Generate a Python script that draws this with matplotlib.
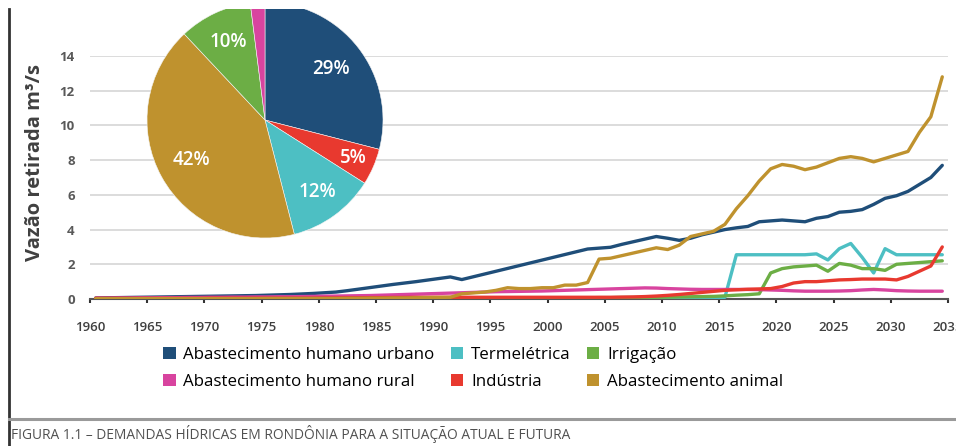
import matplotlib
matplotlib.use("Agg")
import matplotlib.pyplot as plt
from matplotlib.patches import Patch
from matplotlib.lines import Line2D
import numpy as np

# ---------------- data ----------------
YEARS = list(range(1960, 2035))  # category years (75)

urbano = [0.06, 0.07, 0.08, 0.09, 0.10, 0.11, 0.12, 0.13, 0.14, 0.15,
          0.16, 0.17, 0.18, 0.19, 0.20, 0.22, 0.24, 0.26, 0.29, 0.32,
          0.36, 0.40, 0.48, 0.57, 0.66, 0.75, 0.84, 0.92, 1.00, 1.09,
          1.18, 1.27, 1.12, 1.28, 1.44, 1.60, 1.76, 1.92, 2.08, 2.24,
          2.40, 2.56, 2.72, 2.88, 2.93, 2.98, 3.15, 3.30, 3.45, 3.60,
          3.50, 3.38, 3.50, 3.70, 3.85, 4.00, 4.10, 4.18, 4.45, 4.50,
          4.55, 4.50, 4.45, 4.65, 4.75, 5.00, 5.05, 5.15, 5.45, 5.80,
          5.95, 6.20, 6.60, 7.00, 7.70]

termeletrica = [0.02, 0.02, 0.02, 0.02, 0.02, 0.02, 0.02, 0.02, 0.02, 0.02,
                0.02, 0.02, 0.02, 0.02, 0.02, 0.02, 0.02, 0.02, 0.02, 0.02,
                0.02, 0.02, 0.02, 0.02, 0.02, 0.02, 0.02, 0.02, 0.02, 0.02,
                0.02, 0.02, 0.02, 0.02, 0.02, 0.02, 0.02, 0.02, 0.02, 0.02,
                0.02, 0.02, 0.02, 0.02, 0.02, 0.02, 0.02, 0.02, 0.02, 0.02,
                0.02, 0.02, 0.02, 0.02, 0.02, 0.10, 2.55, 2.55, 2.55, 2.55,
                2.55, 2.55, 2.55, 2.60, 2.25, 2.90, 3.20, 2.40, 1.50, 2.90,
                2.55, 2.55, 2.55, 2.55, 2.55]

irrigacao = [0.00, 0.00, 0.00, 0.00, 0.00, 0.00, 0.00, 0.00, 0.00, 0.00,
             0.00, 0.00, 0.00, 0.00, 0.00, 0.00, 0.00, 0.00, 0.00, 0.00,
             0.00, 0.00, 0.00, 0.00, 0.00, 0.00, 0.00, 0.00, 0.00, 0.00,
             0.01, 0.01, 0.02, 0.02, 0.03, 0.03, 0.04, 0.04, 0.05, 0.05,
             0.06, 0.06, 0.07, 0.07, 0.08, 0.08, 0.09, 0.09, 0.10, 0.10,
             0.11, 0.12, 0.13, 0.14, 0.15, 0.18, 0.22, 0.25, 0.30, 1.50,
             1.75, 1.85, 1.90, 1.95, 1.60, 2.05, 1.95, 1.75, 1.75, 1.65,
             2.00, 2.05, 2.10, 2.15, 2.20]

rural = [0.05, 0.05, 0.06, 0.06, 0.07, 0.07, 0.08, 0.08, 0.09, 0.09,
         0.10, 0.10, 0.11, 0.11, 0.12, 0.12, 0.13, 0.13, 0.14, 0.15,
         0.16, 0.17, 0.18, 0.19, 0.20, 0.22, 0.24, 0.26, 0.28, 0.30,
         0.32, 0.34, 0.36, 0.38, 0.40, 0.42, 0.43, 0.44, 0.45, 0.46,
         0.48, 0.50, 0.52, 0.54, 0.56, 0.58, 0.60, 0.62, 0.64, 0.63,
         0.60, 0.58, 0.56, 0.55, 0.55, 0.55, 0.55, 0.55, 0.54, 0.52,
         0.50, 0.47, 0.45, 0.45, 0.45, 0.46, 0.48, 0.52, 0.55, 0.52,
         0.48, 0.46, 0.45, 0.45, 0.45]

industria = [0.04, 0.04, 0.04, 0.04, 0.04, 0.04, 0.04, 0.04, 0.04, 0.04,
             0.05, 0.05, 0.05, 0.05, 0.05, 0.05, 0.05, 0.05, 0.05, 0.05,
             0.06, 0.06, 0.07, 0.07, 0.08, 0.08, 0.09, 0.09, 0.10, 0.10,
             0.10, 0.10, 0.10, 0.10, 0.10, 0.10, 0.10, 0.10, 0.10, 0.10,
             0.10, 0.10, 0.10, 0.10, 0.10, 0.10, 0.11, 0.12, 0.14, 0.17,
             0.21, 0.26, 0.32, 0.38, 0.44, 0.50, 0.53, 0.56, 0.58, 0.60,
             0.72, 0.92, 1.00, 1.00, 1.05, 1.10, 1.12, 1.15, 1.15, 1.15,
             1.10, 1.30, 1.60, 1.90, 3.00]

animal = [0.02, 0.02, 0.02, 0.02, 0.02, 0.02, 0.02, 0.02, 0.02, 0.02,
          0.02, 0.02, 0.02, 0.02, 0.02, 0.03, 0.03, 0.03, 0.03, 0.03,
          0.03, 0.03, 0.04, 0.04, 0.05, 0.05, 0.06, 0.06, 0.07, 0.08,
          0.09, 0.10, 0.30, 0.35, 0.40, 0.50, 0.65, 0.60, 0.60, 0.65,
          0.65, 0.80, 0.80, 0.95, 2.30, 2.35, 2.50, 2.65, 2.80, 2.95,
          2.85, 3.10, 3.60, 3.75, 3.90, 4.30, 5.20, 5.95, 6.80, 7.50,
          7.75, 7.65, 7.45, 7.60, 7.85, 8.10, 8.20, 8.10, 7.90, 8.10,
          8.30, 8.50, 9.60, 10.50, 12.80]

SERIES_NAMES = ["Abastecimento humano urbano", "Termelétrica", "Irrigação",
                "Abastecimento humano rural", "Indústria", "Abastecimento animal"]

PIE_LABELS = ["Abastecimento humano urbano", "Indústria", "Termelétrica",
              "Abastecimento animal", "Irrigação", "Abastecimento humano rural"]
PIE_SHARES = [29, 5, 12, 42, 10, 2]
PIE_TEXT = ["29%", "5%", "12%", "42%", "10%", ""]

X_TICKS = list(range(1960, 2036, 5))
Y_TICKS = [0, 2, 4, 6, 8, 10, 12, 14]

Y_LABEL = "Vazão retirada m³/s"
CAPTION = "FIGURA 1.1 – DEMANDAS HÍDRICAS EM RONDÔNIA PARA A SITUAÇÃO ATUAL E FUTURA"

# ---------------- style ----------------
COLORS = {
    "Abastecimento humano urbano": "#1f4e79",
    "Termelétrica": "#4dbfc3",
    "Irrigação": "#6cae45",
    "Abastecimento humano rural": "#d8449f",
    "Indústria": "#e8392f",
    "Abastecimento animal": "#bf922e",
}

FONT = ["Open Sans", "DejaVu Sans"]
plt.rcParams["font.family"] = FONT

W, H = 956, 446
fig = plt.figure(figsize=(W / 100, H / 100), dpi=100)

def fx(px):
    return px / W

def fy(py):
    return 1 - py / H

ax = fig.add_axes([fx(90), fy(299), fx(948) - fx(90), fy(56) - fy(299)])

data = {
    "Abastecimento humano urbano": urbano,
    "Termelétrica": termeletrica,
    "Irrigação": irrigacao,
    "Abastecimento humano rural": rural,
    "Indústria": industria,
    "Abastecimento animal": animal,
}

xs = np.array(YEARS) + 0.5
for name in SERIES_NAMES:
    ax.plot(xs, data[name], color=COLORS[name], lw=2.4, solid_joinstyle="round",
            solid_capstyle="round", zorder=3)

ax.set_xlim(1960, 2035)
ax.set_ylim(0, 14)
ax.set_yticks(Y_TICKS)
ax.set_xticks(X_TICKS)
ax.set_xticklabels([str(t) for t in X_TICKS], fontsize=9.5,
                   color="#404040", fontweight="semibold")
ax.set_yticklabels([str(t) for t in Y_TICKS], fontsize=9.5, color="#595959",
                   fontweight="bold")
ax.tick_params(axis="y", length=0, pad=11)
ax.tick_params(axis="x", length=3, width=1.5, color="#333333", pad=13, direction="out")
ax.grid(axis="y", color="#d9d9d9", lw=1.3, zorder=0)
for s in ["top", "right", "left"]:
    ax.spines[s].set_visible(False)
ax.spines["bottom"].set_color("#555555")
ax.spines["bottom"].set_linewidth(1.5)
ax.set_axisbelow(True)
ax.set_ylabel(Y_LABEL, fontsize=14.5, fontweight="bold", color="#404040")
ax.yaxis.set_label_coords(-0.052, 0.56)
ax.patch.set_visible(False)

# legend (column-first fill order)
order = ["Abastecimento humano urbano", "Abastecimento humano rural",
         "Termelétrica", "Indústria", "Irrigação", "Abastecimento animal"]
handles = [Patch(facecolor=COLORS[n], edgecolor="none") for n in order]
fig.legend(handles, order, loc="upper left", bbox_to_anchor=(fx(163), fy(347)),
           ncol=3, frameon=False, prop={"size": 12.2},
           handlelength=0.75, handleheight=0.75, handletextpad=0.45,
           columnspacing=0.95, labelspacing=0.62, borderpad=0, borderaxespad=0)

# pie inset
R = 118
pax = fig.add_axes([fx(265 - R), fy(120 + R), fx(2 * R), fy(120 - R) - fy(120 + R)])
wedges, _ = pax.pie(PIE_SHARES, colors=[COLORS[n] for n in PIE_LABELS],
                    startangle=90, counterclock=False,
                    wedgeprops=dict(edgecolor="#f4f4f4", linewidth=0.4))
pax.set_xlim(-1, 1)
pax.set_ylim(-1, 1)
pax.set_aspect("equal")
pax.axis("off")
label_r = [0.71, 0.82, 0.75, 0.71, 0.73, 0.7]
for w, t, r in zip(wedges, PIE_TEXT, label_r):
    if not t:
        continue
    ang = np.deg2rad((w.theta1 + w.theta2) / 2)
    pax.text(r * np.cos(ang), r * np.sin(ang), t, ha="center", va="center",
             color="white", fontsize=13.5, fontweight="semibold")

# frame decorations
fig.add_artist(plt.Rectangle((0, fy(9)), 1, 1 - fy(9), transform=fig.transFigure,
                             facecolor="white", edgecolor="none", zorder=10))
fig.add_artist(Line2D([fx(9), fx(9)], [fy(9), 0], transform=fig.transFigure,
                      color="#333333", lw=2, zorder=11))
fig.add_artist(Line2D([fx(9), 1], [fy(419), fy(419)], transform=fig.transFigure,
                      color="#9a9a9a", lw=2.2, zorder=11))
fig.text(fx(11), fy(434), CAPTION, fontsize=9.9, color="#505050",
         va="center", ha="left")

fig.savefig("out.png", dpi=100)
